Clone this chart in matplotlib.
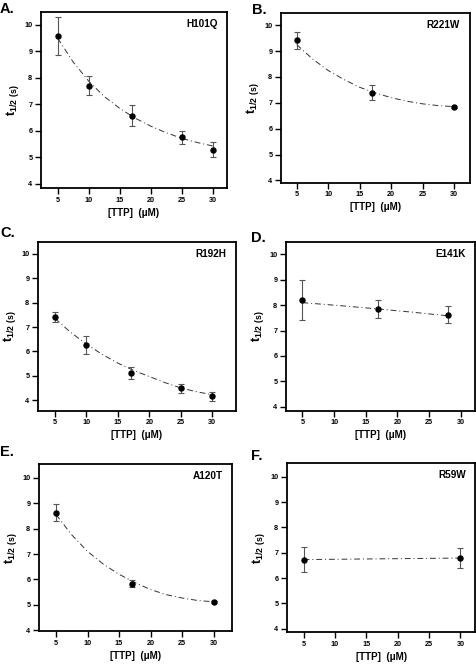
import matplotlib
matplotlib.use('Agg')
from matplotlib import pyplot as pl

pl.rcParams['font.family'] = ['Liberation Sans', 'DejaVu Sans']
pl.rcParams['font.weight'] = 'bold'
pl.rcParams['mathtext.fontset'] = 'custom'
pl.rcParams['mathtext.rm'] = 'Liberation Sans:bold'
pl.rcParams['mathtext.bf'] = 'Liberation Sans:bold'

# Mutant names and panel letters
names = ['H101Q', 'R221W', 'R192H', 'E141K', 'A120T', 'R59W']
letters = ['A.', 'B.', 'C.', 'D.', 'E.', 'F.']

x_a = [5, 10, 17, 25, 30]
y_a = [9.58, 7.71, 6.57, 5.75, 5.29]
e_a = [0.72, 0.35, 0.40, 0.25, 0.28]

x_b = [5, 17, 30]
y_b = [9.42, 7.39, 6.84]
e_b = [0.33, 0.28, 0.05]

x_c = [5, 10, 17, 25, 30]
y_c = [7.40, 6.27, 5.11, 4.49, 4.16]
e_c = [0.20, 0.37, 0.25, 0.19, 0.18]

x_d = [5, 17, 28]
y_d = [8.20, 7.86, 7.62]
e_d = [0.78, 0.36, 0.34]

x_e = [5, 17, 30]
y_e = [8.62, 5.83, 5.12]
e_e = [0.34, 0.14, 0.04]

x_f = [5, 30]
y_f = [6.73, 6.79]
e_f = [0.50, 0.38]

# Fitted curves (dash-dot), sampled off the figure
fx = [5, 7.5, 10, 12.5, 15, 17.5, 20, 22.5, 25, 27.5, 30]
fit_a = [9.50, 8.60, 7.88, 7.30, 6.85, 6.48, 6.18, 5.93, 5.72, 5.56, 5.43]
fit_b = [9.25, 8.70, 8.25, 7.90, 7.60, 7.38, 7.20, 7.06, 6.96, 6.89, 6.85]
fit_c = [7.35, 6.78, 6.30, 5.88, 5.52, 5.22, 4.97, 4.72, 4.50, 4.35, 4.22]
fit_e = [8.55, 7.75, 7.10, 6.60, 6.20, 5.88, 5.60, 5.40, 5.27, 5.17, 5.12]
fx_d = [5, 11, 17, 22.5, 28]
fit_d = [8.10, 7.98, 7.85, 7.72, 7.58]
fx_f = [5, 30]
fit_f = [6.73, 6.79]

panels = [
    (x_a, y_a, e_a, fx, fit_a),
    (x_b, y_b, e_b, fx, fit_b),
    (x_c, y_c, e_c, fx, fit_c),
    (x_d, y_d, e_d, fx_d, fit_d),
    (x_e, y_e, e_e, fx, fit_e),
    (x_f, y_f, e_f, fx_f, fit_f),
]

W, H = 477, 667

# axes boxes in pixels: left, top, right, bottom
boxes = [
    (40.7, 12, 227.3, 188.3),
    (280.7, 13.3, 469.7, 182.7),
    (37.7, 242, 236, 410.7),
    (285.7, 242, 474.7, 410.7),
    (38.7, 464, 232.3, 631.3),
    (286.7, 463.3, 475.5, 632.3),
]
xlims = [(2.26, 32.37), (2.46, 32.5), (2.25, 33.76),
         (2.36, 32.2), (2.25, 32.95), (2.3, 32.4)]
ylims = [(3.83, 10.49), (3.91, 10.46), (3.57, 10.49),
         (3.84, 10.49), (3.96, 10.54), (3.86, 10.53)]
# panel letter positions (pixels, left/top)
letter_pos = [(0, 2), (252, 3), (0, 226), (251, 231), (0, 445), (251, 449)]

fig = pl.figure(figsize=(W / 100, H / 100), dpi=100)

for i, (xs, ys, es, fxs, fys) in enumerate(panels):
    l, t, r, b = boxes[i]
    ax = fig.add_axes([l / W, 1 - b / H, (r - l) / W, (b - t) / H])

    ax.plot(fxs, fys, color='#333333', linewidth=0.7,
            linestyle=(0, (6, 3, 1, 3)))
    ax.errorbar(xs, ys, yerr=es, fmt='o', color='black', markersize=3.6,
                ecolor='#555555', elinewidth=0.8, capsize=2.5, capthick=0.8)

    ax.set_xlim(xlims[i])
    ax.set_ylim(ylims[i])
    ax.set_xticks([5, 10, 15, 20, 25, 30])
    ax.set_yticks([4, 5, 6, 7, 8, 9, 10])
    ax.tick_params(direction='out', length=4, width=1.0, labelsize=5.2,
                   pad=2)
    for lab in ax.get_xticklabels() + ax.get_yticklabels():
        lab.set_fontweight('bold')
    for sp in ax.spines.values():
        sp.set_linewidth(1.3)

    ax.set_xlabel('[TTP]  (\u03bcM)', fontsize=7, fontweight='bold',
                  labelpad=3)
    ax.set_ylabel(r'$\mathbf{t}_{\mathbf{1/2\ (s)}}$', fontsize=9,
                  labelpad=2)

    ax.text(0.95, 0.93, names[i], transform=ax.transAxes, ha='right',
            va='center', fontsize=7.2, fontweight='bold')

    lx, ly = letter_pos[i]
    fig.text(lx / W, 1 - ly / H, letters[i], ha='left', va='top',
             fontsize=10.5, fontweight='bold')

fig.savefig('out.png', dpi=100)
